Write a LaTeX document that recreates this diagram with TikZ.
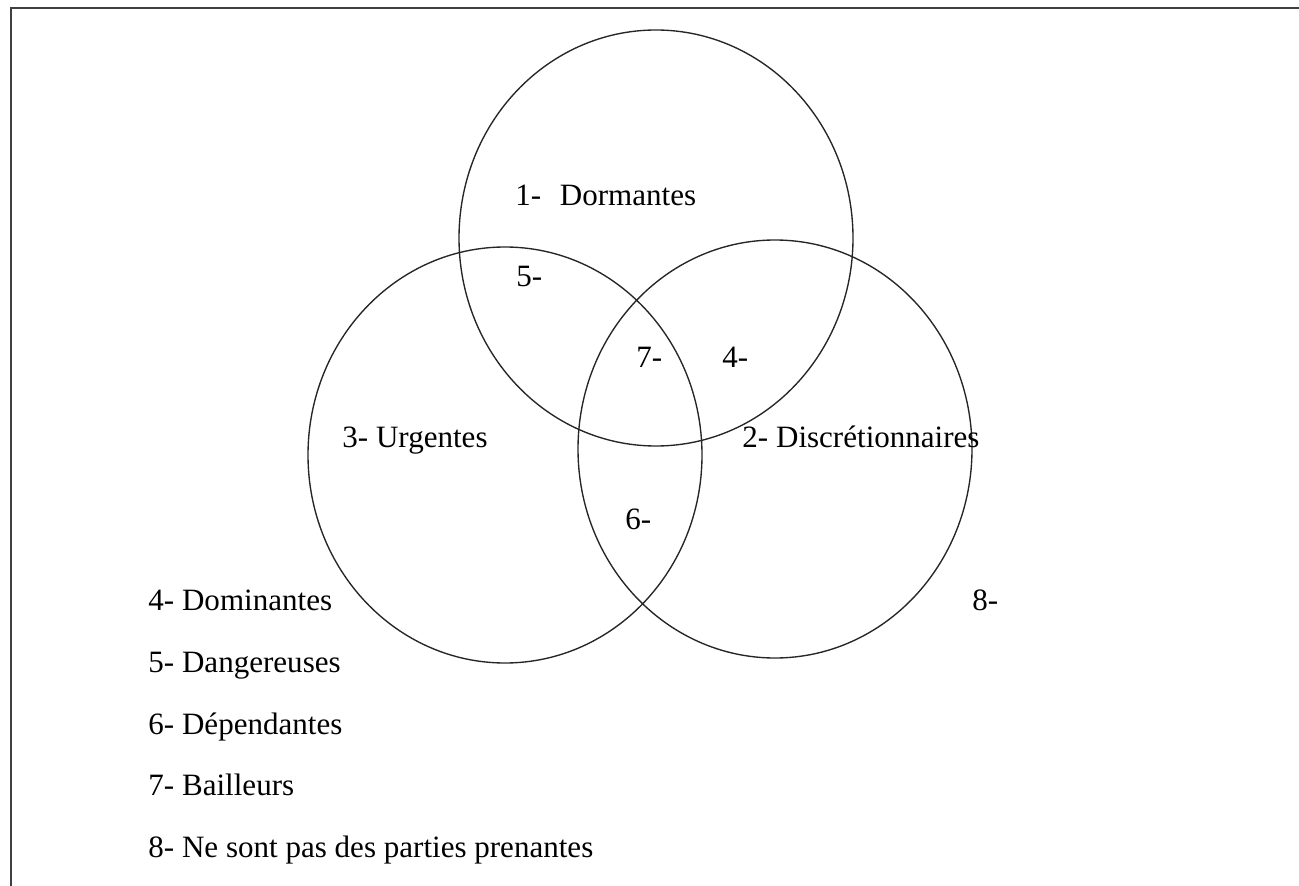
\documentclass[tikz,border=0pt]{standalone}
\usepackage{fontspec}
\setmainfont{Liberation Serif}
\usepackage{tikz}

\tikzset{
  zone/.style={line width=0.6pt, black!85},
  frame/.style={line width=1.2pt, black!75},
  lbl/.style={anchor=west, inner sep=0pt, text height=0.7em, text depth=0pt,
    font=\fontsize{13.6}{16}\selectfont}
}

\begin{document}
\begin{tikzpicture}[x=0.0154cm, y=-0.0154cm]
            \useasboundingbox (0,0) rectangle (1299,886);
            \draw[frame] (1299,8) -- (11,8) -- (11,886);
            \draw[zone] (656,238) ellipse (197 and 208);
            \draw[zone] (505,455) ellipse (197 and 208);
            \draw[zone] (775,449) ellipse (197 and 209);
            \node[lbl] (dorm) at (515,198) {1-\hspace{0.6em}Dormantes};
            \node[lbl] (cinq) at (516,279) {5-};
            \node[lbl] (sept) at (636,360) {7-};
            \node[lbl] (quatre) at (722,360) {4-};
            \node[lbl] (urg) at (342,440) {3- Urgentes};
            \node[lbl] (disc) at (742,440) {2- Discrétionnaires};
            \node[lbl] (six) at (625,522) {6-};
            \node[lbl] (huit) at (972,603) {8-};
            \node[lbl] (leg4) at (148,603) {4- Dominantes};
            \node[lbl] (leg5) at (148,665) {5- Dangereuses};
            \node[lbl] (leg6) at (148,727) {6- Dépendantes};
            \node[lbl] (leg7) at (148,788) {7- Bailleurs};
            \node[lbl] (leg8) at (148,850) {8- Ne sont pas des parties prenantes};
        \end{tikzpicture}
\end{document}
